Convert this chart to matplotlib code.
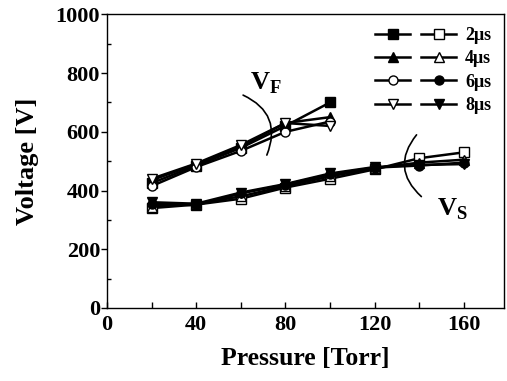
import matplotlib
matplotlib.use("Agg")
import matplotlib.pyplot as plt
from matplotlib.legend_handler import HandlerTuple
from matplotlib.ticker import MultipleLocator

plt.rcParams['font.family'] = ['Liberation Serif', 'DejaVu Serif']
plt.rcParams['font.weight'] = 'bold'
plt.rcParams['mathtext.fontset'] = 'custom'
plt.rcParams['mathtext.rm'] = 'Liberation Serif:bold'
plt.rcParams['mathtext.bf'] = 'Liberation Serif:bold'

# firing voltage V_F
p_f = [20, 40, 60, 80, 100]
vf_2us = [425, 485, 545, 620, 700]
vf_4us = [435, 490, 550, 630, 650]
vf_6us = [415, 480, 535, 600, 635]
vf_8us = [440, 492, 555, 630, 620]

# sustain voltage V_S
p_s = [20, 40, 60, 80, 100, 120, 140, 160]
vs_2us = [340, 352, 372, 410, 440, 472, 510, 530]
vs_4us = [345, 355, 380, 415, 448, 476, 495, 505]
vs_6us = [355, 350, 390, 420, 455, 478, 485, 495]
vs_8us = [360, 355, 393, 422, 458, 480, 487, 490]

pulse_labels = ['2\u03bcs', '4\u03bcs', '6\u03bcs', '8\u03bcs']

fig = plt.figure(figsize=(5.07, 3.81), dpi=100)
ax = fig.add_axes([0.211, 0.192, 0.783, 0.770])

kw = dict(color='black', lw=1.8, ms=6.5, mec='black', mew=1.0)
open_ = dict(mfc='white')
fill_ = dict(mfc='black')

# V_F curves: filled square, filled triangle, open circle, open down-triangle
f1, = ax.plot(p_f, vf_2us, marker='s', **kw, **fill_)
f2, = ax.plot(p_f, vf_4us, marker='^', **kw, **fill_)
f3, = ax.plot(p_f, vf_6us, marker='o', **kw, **open_)
f4, = ax.plot(p_f, vf_8us, marker='v', **kw, **open_)

# V_S curves: open square, open triangle, filled circle, filled down-triangle
s1, = ax.plot(p_s, vs_2us, marker='s', **kw, **open_)
s2, = ax.plot(p_s, vs_4us, marker='^', **kw, **open_)
s3, = ax.plot(p_s, vs_6us, marker='o', **kw, **fill_)
s4, = ax.plot(p_s, vs_8us, marker='v', **kw, **fill_)

ax.set_xlim(0, 178)
ax.set_ylim(0, 1000)
ax.xaxis.set_major_locator(MultipleLocator(40))
ax.xaxis.set_minor_locator(MultipleLocator(20))
ax.yaxis.set_major_locator(MultipleLocator(200))
ax.yaxis.set_minor_locator(MultipleLocator(100))
ax.tick_params(axis='x', which='both', direction='in', length=4, width=1, pad=5)
ax.tick_params(axis='y', which='major', direction='out', length=4, width=1, pad=1)
ax.tick_params(axis='y', which='minor', direction='in', length=3, width=1)
ax.tick_params(labelsize=16)
for sp in ax.spines.values():
    sp.set_linewidth(1.0)

ax.set_xlabel('Pressure [Torr]', fontsize=18.5, fontweight='bold', labelpad=9)
ax.set_ylabel('Voltage [V]', fontsize=19, fontweight='bold', labelpad=12)

# curved brackets marking the two groups
ax.annotate('', xy=(71.2, 512), xytext=(59.9, 729),
            arrowprops=dict(arrowstyle='-', color='black', lw=1.2,
                            connectionstyle='arc3,rad=-0.5'))
ax.annotate('', xy=(141.9, 373), xytext=(139.6, 597),
            arrowprops=dict(arrowstyle='-', color='black', lw=1.2,
                            connectionstyle='arc3,rad=0.5'))
ax.text(64, 765, r'$\mathbf{V}_{\mathbf{F}}$', fontsize=19, ha='left', va='center')
ax.text(148, 335, r'$\mathbf{V}_{\mathbf{S}}$', fontsize=19, ha='left', va='center')

handles = [(f1, s1), (f2, s2), (f3, s3), (f4, s4)]
ax.legend(handles, pulse_labels, handler_map={tuple: HandlerTuple(ndivide=None, pad=0.6)},
          loc='upper right', bbox_to_anchor=(1.0, 1.0), frameon=False,
          fontsize=13, handlelength=4.5, handletextpad=0.5, labelspacing=0.35,
          borderaxespad=0.3)

fig.savefig('out.png', dpi=100)
